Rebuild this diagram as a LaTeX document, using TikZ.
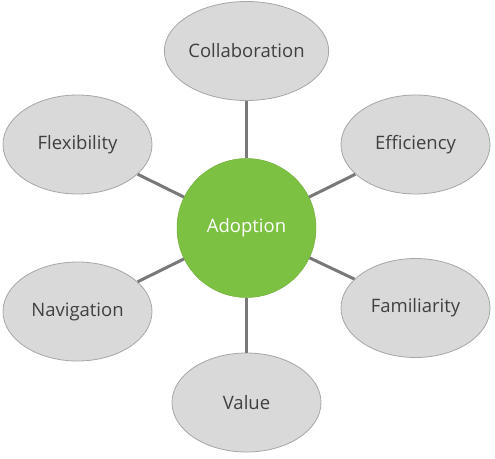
\documentclass[tikz,border=0pt]{standalone}
\usepackage{fontspec}
\setmainfont{Open Sans}
\usetikzlibrary{positioning,shapes.geometric}
\definecolor{LeafGreen}{RGB}{125,193,66}
\definecolor{SoftGrey}{RGB}{217,217,217}
\definecolor{EdgeGrey}{RGB}{166,166,166}
\definecolor{SpokeGrey}{RGB}{120,120,120}
\definecolor{TextGrey}{RGB}{64,64,64}
\tikzset{
  hub/.style={circle,fill=LeafGreen,draw=LeafGreen!90!black,line width=0.5pt,
    minimum size=139pt,inner sep=0pt,text=white,font=\fontsize{18.5}{20}\selectfont},
  factor/.style={ellipse,fill=SoftGrey,draw=EdgeGrey,line width=0.8pt,
    minimum width=149pt,minimum height=99pt,inner sep=0pt,text=TextGrey,
    font=\fontsize{18.5}{20}\selectfont},
  spoke/.style={SpokeGrey,line width=3pt}
}
\begin{document}
\begin{tikzpicture}[x=1pt,y=-1pt]
      \useasboundingbox (0,0) rectangle (495,458);
      \node[hub] (adopt) at (246.5,228) {Adoption};
      \node[factor] (collab) at (246.5,51) {Collaboration};
      \node[factor] (effic) at (415.5,144.5) {Efficiency};
      \node[factor] (famil) at (415.5,308) {Familiarity};
      \node[factor] (value) at (246.5,402.5) {Value};
      \node[factor] (navig) at (77.5,311.5) {Navigation};
      \node[factor] (flexi) at (77.5,144.5) {Flexibility};
      \foreach \n in {collab,effic,famil,value,navig,flexi}
        \draw[spoke] (adopt) -- (\n);
    \end{tikzpicture}
\end{document}
